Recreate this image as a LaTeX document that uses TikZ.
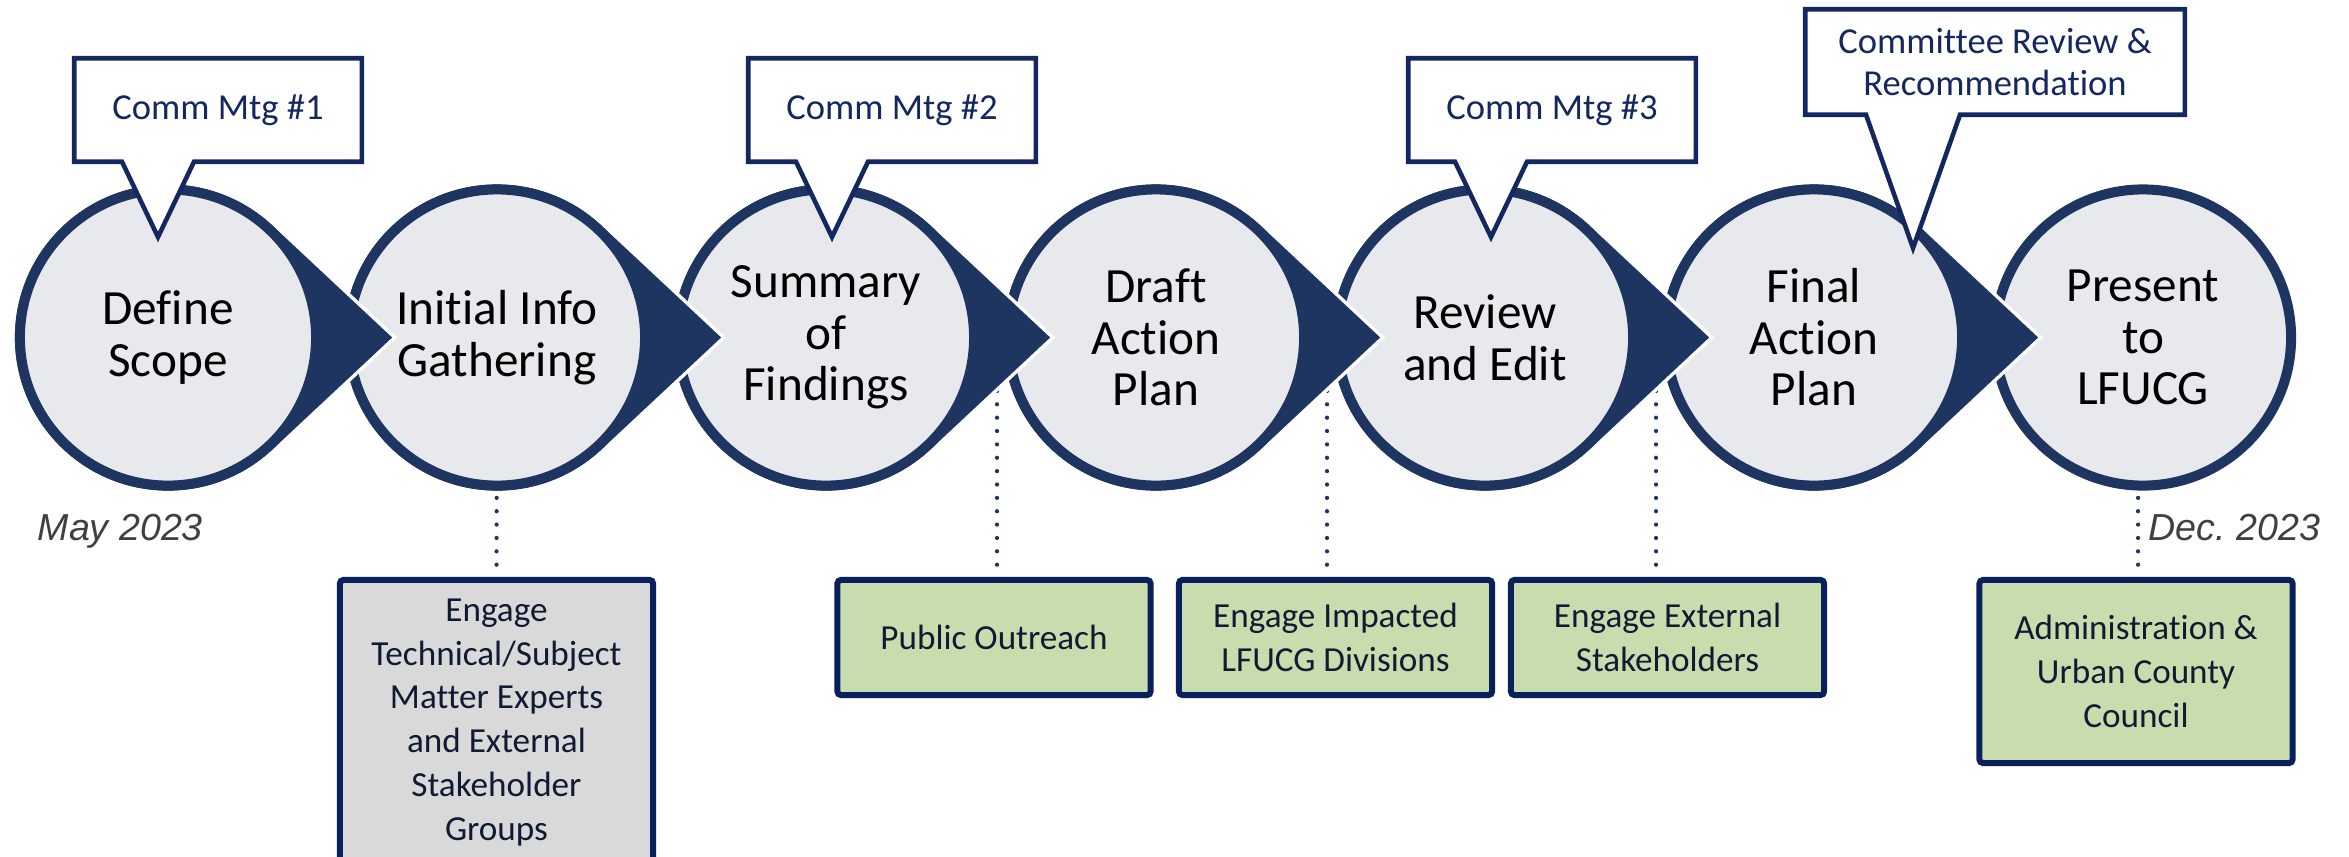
\documentclass[tikz,border=0pt]{standalone}
\usepackage{fontspec}
\setmainfont{Carlito}[Ligatures = NoCommon]
\newfontfamily\datefont{Liberation Sans}
\usetikzlibrary{calc}
\definecolor{ringblue}{RGB}{30, 53, 98}
\definecolor{discgray}{RGB}{232, 233, 237}
\definecolor{mtgnavy}{RGB}{20, 40, 95}
\definecolor{boxnavy}{RGB}{10, 32, 92}
\definecolor{boxgreen}{RGB}{200, 221, 174}
\definecolor{boxgray}{RGB}{217, 217, 217}
\definecolor{boxink}{RGB}{17, 26, 51}
\definecolor{dateink}{RGB}{64, 64, 64}

% pointed tail of a step, drawn under its disc
\newcommand{\steptail}[1]{%
  \draw[white, line width = 2pt, line join = miter] (#1) ++(-46.9:1.53cm)
    arc[start angle = -46.9, end angle = -313.1, radius = 1.53cm] -- ($(#1)+(2.24cm,0)$) -- cycle;
  \fill[ringblue] (#1) ++(-46.9:1.53cm)
    arc[start angle = -46.9, end angle = -313.1, radius = 1.53cm] -- ($(#1)+(2.24cm,0)$) -- cycle;}

% frame of a meeting callout: box, tip, half width of the pointer
\newcommand{\mtgframe}[3]{%
  \fill[white] ($(#2 |- #1.south)+(-#3,0)$) -- (#2) -- ($(#2 |- #1.south)+(#3,0)$) -- cycle;
  \draw[mtgline] (#1.south west) -- (#1.north west) -- (#1.north east) -- (#1.south east)
    -- ($(#2 |- #1.south)+(#3,0)$) -- (#2) -- ($(#2 |- #1.south)+(-#3,0)$) -- cycle;}

\begin{document}
\begin{tikzpicture}[x = 0.01cm, y = 0.01cm,
	stepdisc/.style = {circle, draw = ringblue, line width = 2.85pt, fill = discgray,
		minimum size = 2.96cm, inner sep = 0pt, align = center,
		font = \fontsize{14}{14.65}\selectfont},
	mtgbox/.style = {rectangle, minimum width = 2.86cm, minimum height = 1.02cm,
		align = center, text = mtgnavy, font = \fontsize{10.4}{12}\selectfont},
	mtgline/.style = {draw = mtgnavy, line width = 1.3pt, line join = miter},
	engagebox/.style = {rectangle, draw = boxnavy, line width = 1.7pt, rounded corners = 1pt,
		minimum width = 3.13cm, inner sep = 0pt, align = center, text = boxink,
		font = \fontsize{10}{12.5}\selectfont},
	linkdots/.style = {draw = ringblue, line width = 1.2pt, line cap = round,
		dash pattern = on 0pt off 3.8pt},
	datelabel/.style = {anchor = base west, inner sep = 0pt, text = dateink,
		font = \datefont\itshape\fontsize{10.7}{12}\selectfont}]
	\useasboundingbox (0,0) rectangle (2349,856);
	\clip (0,0) rectangle (2349,856);

	% step centres
	\coordinate (p1) at (168,518.5);
	\coordinate (p2) at (497,518.5);
	\coordinate (p3) at (826,518.5);
	\coordinate (p4) at (1156,518.5);
	\coordinate (p5) at (1485,518.5);
	\coordinate (p6) at (1814,518.5);
	\coordinate (p7) at (2143,518.5);

	% engagement boxes
	\node (bA) at (496.5,133.5) [engagebox, fill = boxgray, minimum height = 2.85cm]
		{Engage\\Technical/Subject\\Matter Experts\\and External\\Stakeholder\\Groups};
	\node (bB) at (994,218.5) [engagebox, fill = boxgreen, minimum height = 1.15cm] {Public Outreach};
	\node (bC) at (1335.5,218.5) [engagebox, fill = boxgreen, minimum height = 1.15cm] {Engage Impacted\\LFUCG Divisions};
	\node (bD) at (1667.5,218.5) [engagebox, fill = boxgreen, minimum height = 1.15cm] {Engage External\\Stakeholders};
	\node (bE) at (2136,184.5) [engagebox, fill = boxgreen, minimum height = 1.83cm] {Administration \&\\Urban County\\Council};

	% dotted links
	\coordinate (l3) at (997,518.5);
	\coordinate (l4) at (1327,518.5);
	\coordinate (l5) at (1656,518.5);
	\coordinate (l7) at (2138,518.5);
	\draw[linkdots] (p2) -- (bA.north);
	\draw[linkdots] (l3) -- (l3 |- bB.north);
	\draw[linkdots] (l4) -- (l4 |- bC.north);
	\draw[linkdots] (l5) -- (l5 |- bD.north);
	\draw[linkdots] (l7) -- (l7 |- bE.north);

	% steps, right to left
	\node (s7) at (p7) [stepdisc] {Present\\to\\LFUCG};
	\steptail{p6}
	\node (s6) at (p6) [stepdisc] {Final\\Action\\Plan};
	\steptail{p5}
	\node (s5) at (p5) [stepdisc] {Review\\and Edit};
	\steptail{p4}
	\node (s4) at (p4) [stepdisc] {Draft\\Action\\Plan};
	\steptail{p3}
	\node (s3) at (p3) [stepdisc] {Summary\\of\\Findings};
	\steptail{p2}
	\node (s2) at (p2) [stepdisc] {Initial Info\\Gathering};
	\steptail{p1}
	\node (s1) at (p1) [stepdisc] {Define\\Scope};

	% meetings
	\node (m1) at (218,746) [mtgbox] {Comm Mtg \#1};
	\node (m2) at (892,746) [mtgbox] {Comm Mtg \#2};
	\node (m3) at (1552,746) [mtgbox] {Comm Mtg \#3};
	\node (m4) at (1995,794) [mtgbox, minimum width = 3.78cm, minimum height = 1.04cm]
		{Committee Review \&\\Recommendation};
	\coordinate (t1) at (158,619);
	\coordinate (t2) at (832,619);
	\coordinate (t3) at (1491,619);
	\coordinate (t4) at (1913,608);
	\mtgframe{m1}{t1}{36}
	\mtgframe{m2}{t2}{36}
	\mtgframe{m3}{t3}{36}
	\mtgframe{m4}{t4}{47}

	% dates
	\node (may) at (37,316) [datelabel] {May 2023};
	\node (dec) at (2148,316) [datelabel] {Dec.\ 2023};
\end{tikzpicture}
\end{document}
